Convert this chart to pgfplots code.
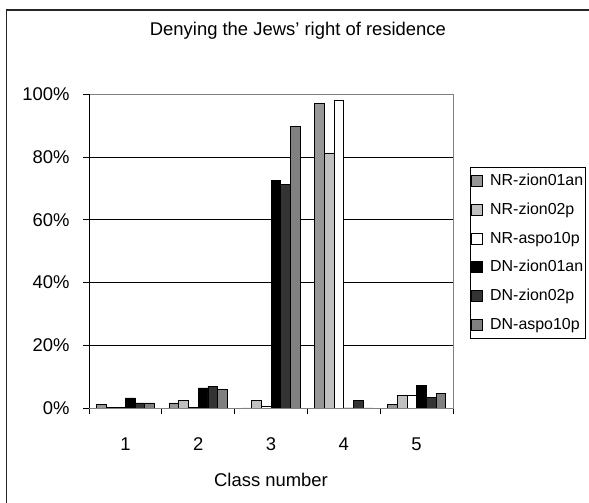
\documentclass[border=0pt]{standalone}
\usepackage{pgfplots}
\pgfplotsset{compat=1.18}
\usepackage{fontspec}
\setmainfont{Liberation Sans}
\definecolor{nrA}{HTML}{969696}
\definecolor{nrB}{HTML}{C0C0C0}
\definecolor{nrC}{HTML}{FFFFFF}
\definecolor{dnA}{HTML}{000000}
\definecolor{dnB}{HTML}{333333}
\definecolor{dnC}{HTML}{808080}
\begin{document}
\begin{tikzpicture}[x=1bp,y=1bp]
\useasboundingbox (-89,-95) rectangle (500,408);
\draw[line width=1.3bp,black!85] (-82.5,-120) -- (-82.5,398) -- (520,398);
\begin{axis}[
  at={(0,0)}, anchor=south west,
  scale only axis, width=364bp, height=313.7bp,
  xmin=0.5, xmax=5.5, ymin=0, ymax=100,
  ybar=0pt, bar width=9.7bp,
  axis line style={draw=gray},
  xtick={1,2,3,4,5},
  minor xtick={0.5,1.5,2.5,3.5,4.5,5.5},
  every major x tick/.append style={draw=none},
  ytick={0,20,40,60,80,100},
  yticklabel={\pgfmathprintnumber{\tick}\%},
  xtick pos=bottom, ytick pos=left,
  tick align=outside,
  major tick length=6bp, minor tick length=6bp,
  tick style={black, line width=0.8bp},
  ymajorgrids, grid style={black, line width=0.8bp},
  /pgf/number format/assume math mode=true,
  tick label style={font=\fontsize{18.5}{22}\selectfont},
  yticklabel style={xshift=-10bp},
  xticklabel style={yshift=-20bp},
  title={Denying the Jews' right of residence},
  title style={font=\fontsize{18.5}{22}\selectfont, at={(axis description cs:0.574,1.183)}, anchor=center},
  xlabel={Class number},
  xlabel style={font=\fontsize{18.5}{22}\selectfont, at={(axis description cs:0.5,-0.2295)}, anchor=center},
  every axis plot/.append style={draw=black, line width=0.8bp},
  legend image code/.code={\draw[#1,/tikz/.cd] (0bp,-5.5bp) rectangle (11bp,5.5bp);},
  legend style={at={(axis description cs:1.0467,0.768)}, anchor=north west,
    draw=black, line width=0.8bp, font=\fontsize{16}{19}\selectfont,
    inner xsep=1bp, inner ysep=4bp, row sep=9.8bp, column sep=5.5bp,
    nodes={inner sep=1.5bp, text height=12.5bp, text depth=3.5bp}},
  legend cell align=left,
]
\addplot[fill=nrA] coordinates {(1,1.1) (2,1.6) (3,0) (4,97.2) (5,1.1)};
\addplot[fill=nrB] coordinates {(1,0.3) (2,2.5) (3,2.4) (4,81.3) (5,3.9)};
\addplot[fill=nrC] coordinates {(1,0.3) (2,0.3) (3,0.4) (4,98.2) (5,3.9)};
\addplot[fill=dnA] coordinates {(1,3.2) (2,6.4) (3,72.4) (4,0) (5,7.3)};
\addplot[fill=dnB] coordinates {(1,1.6) (2,6.9) (3,71.3) (4,2.4) (5,3.4)};
\addplot[fill=dnC] coordinates {(1,1.6) (2,5.9) (3,89.7) (4,0) (5,4.5)};
\legend{NR-zion01an,NR-zion02p,NR-aspo10p,DN-zion01an,DN-zion02p,DN-aspo10p}
\draw[black, line width=0.9bp] (rel axis cs:0,1) -- (rel axis cs:0,0) -- (rel axis cs:1,0);
\end{axis}
\end{tikzpicture}
\end{document}
